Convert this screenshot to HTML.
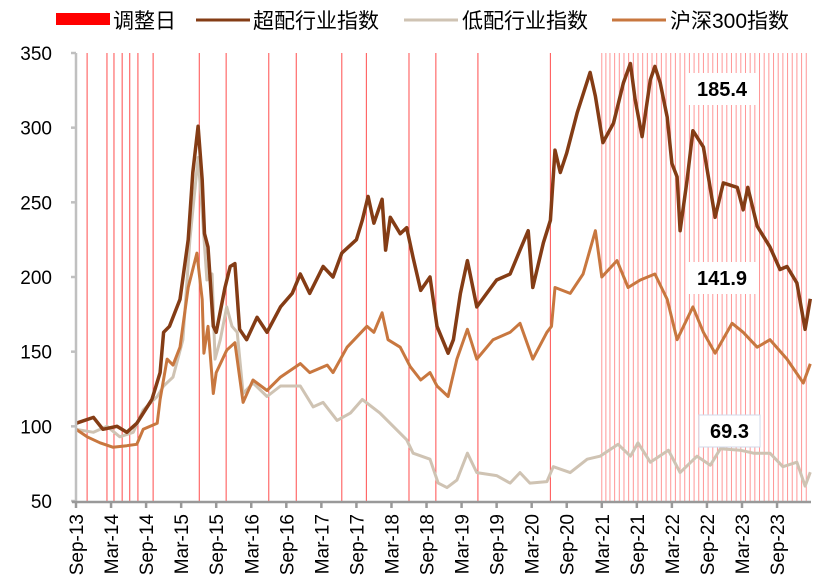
<!DOCTYPE html>
<html><head><meta charset="utf-8"><style>
body{margin:0;background:#fff;}
svg{display:block;font-family:"Liberation Sans","Noto Sans CJK SC",sans-serif;}
</style></head><body>
<svg id="chart" width="820" height="588" viewBox="0 0 820 588">
<g id="legend">
<g><rect x="56" y="13" width="54" height="12" fill="#ff0000"/><text x="113" y="28" font-size="21">调整日</text></g>
<g><line x1="196" y1="20" x2="250" y2="20" stroke="#843c15" stroke-width="3"/><text x="253" y="28" font-size="21">超配行业指数</text></g>
<g><line x1="404" y1="20" x2="458" y2="20" stroke="#cfc3b3" stroke-width="3"/><text x="462" y="28" font-size="21">低配行业指数</text></g>
<g><line x1="612" y1="20" x2="666" y2="20" stroke="#c8773f" stroke-width="3"/><text x="670" y="28" font-size="21">沪深300指数</text></g>
</g>
<g id="rules"></g>
<g id="series"></g>
<g id="axes"></g>
<g id="labels"></g>
</svg>
<script>
const yTicks=[350,300,250,200,150,100,50];
const xLabels=["Sep-13","Mar-14","Sep-14","Mar-15","Sep-15","Mar-16","Sep-16","Mar-17","Sep-17","Mar-18","Sep-18","Mar-19","Sep-19","Mar-20","Sep-20","Mar-21","Sep-21","Mar-22","Sep-22","Mar-23","Sep-23"];
const adjustSparse=[1.9,5.3,6.5,7.9,9.2,10.6,13.2,21.1,25.7,33,37.7,45.5,49.7,57,61.6,68.8,81.2];
const adjustDense=[90.0,90.7,91.4,92.2,93.0,93.8,94.6,95.4,96.2,97.0,97.8,98.6,99.4,100.2,101.0,101.8,102.6,103.4,104.2,105.0,105.8,106.6,107.4,108.2,109.0,109.8,110.6,111.4,112.2,113.0,113.8,114.6,115.4,116.2,117.0,117.8,118.6,119.4,120.2,121.0,121.8,122.6,123.4,124.2,125.0];
const overMonths=[0,3,4.6,7,8.7,10.4,13,14.4,15,16,17.8,19.2,20,20.9,21.6,22,22.6,23.5,24,25.5,26.4,27.2,28,29.2,31,32.7,35,37,38.4,40,42.3,44,45.5,48,49,50,51,52.4,53,53.8,55.5,56.6,57.7,59,60.6,61.8,63.7,64.6,65.8,67,68.6,70.3,72,74.3,76,77.4,78.2,80,81.2,82,82.9,84,85.8,88,88.9,90.2,92,93.7,94.9,95.7,96.9,98.3,99.1,100,101.2,102,102.9,103.4,104.6,105.6,107.4,109.4,110.8,113.2,114.2,115,116.6,118.8,120.5,121.7,123.4,124.8,125.7];
const overValues=[102,106,98,100,96,102,118,136,163,167,185,225,270,301,265,229,220,167,163,193,207,209,165,158,173,163,180,189,202,189,207,200,216,225,238,254,236,252,218,240,229,233,213,191,200,167,149,158,189,211,180,189,198,202,218,231,193,223,238,285,270,283,310,337,321,290,303,330,343,319,294,332,341,330,307,276,267,231,265,298,287,240,263,260,245,260,234,220,205,207,196,165,185.4];
const underMonths=[0,3,5.3,7.5,9.8,11.5,13.9,15,16.6,18.3,19.5,20.9,21.6,22.4,23.3,23.8,24.7,25.8,26.7,27.6,28.6,30.3,32.7,35,38.4,40.6,42.3,44.7,47,49,52,54.3,56.6,57.7,60.6,62,63.5,65.2,67,68.6,72,74.3,76,77.7,80.6,81.7,84.6,87.5,89.7,92.8,94.9,96.2,98.3,101.4,103.4,106.3,108.6,110.3,113.7,116,118.8,121,123.4,124.8,125.7];
const underValues=[98,96,100,93,96,111,120,127,133,158,225,280,243,198,202,145,158,180,167,163,122,129,120,127,127,113,116,104,109,118,109,100,91,82,78,62,59,64,82,69,67,62,69,62,63,73,69,78,80,88,80,89,76,84,69,80,74,85,84,82,82,73,76,60,69.3];
const hsMonths=[0,1.9,4.1,6.3,8.7,10.4,11.5,13.9,14.4,15.6,16.6,17.8,19.2,20.7,21.6,21.9,22.6,23.5,24,25.8,27.2,28.6,30.3,32.7,35,38.4,40,43,44,46.4,49.8,51,52.4,53.4,55.5,57.2,59,60.6,61.8,63.7,65.2,67,68.6,71.4,74.3,76,78.2,80.6,81.4,82,84.6,86.8,88.9,90,92.6,94.5,96.6,99.1,101.2,102.9,105.6,107.4,109.4,112.3,114.2,116.6,118.8,121.7,124.5,125.7];
const hsValues=[98,93,89,86,87,88,98,102,118,145,141,153,193,216,185,149,167,122,136,151,156,116,131,124,133,142,136,141,136,153,167,163,176,158,153,140,131,136,127,120,145,165,145,158,163,169,145,163,167,193,189,202,231,200,211,193,198,202,185,158,180,163,149,169,163,153,158,145,129,141.9];
const endLabels=["185.4","141.9","69.3"];

const NS="http://www.w3.org/2000/svg";
const X0=76, XSTEP=5.842, Y0=501, YTOP=53, VMIN=50, VMAX=350;
function xs(m){return X0+m*XSTEP;}
function ys(v){return Y0-(v-VMIN)/(VMAX-VMIN)*(Y0-YTOP);}
function mk(tag,attrs,parent){const e=document.createElementNS(NS,tag);for(const k in attrs)e.setAttribute(k,attrs[k]);parent.appendChild(e);return e;}
const rules=document.getElementById('rules');
adjustSparse.forEach(m=>{const l=mk('line',{x1:xs(m),x2:xs(m),y1:YTOP,y2:Y0,stroke:'#ff2020','stroke-width':1,'stroke-opacity':0.8},rules);

});
adjustDense.forEach(m=>{const l=mk('line',{x1:xs(m),x2:xs(m),y1:YTOP,y2:Y0,stroke:'#ff3030','stroke-width':1,'stroke-opacity':0.5},rules);

});
const ser=document.getElementById('series');
function line(ms,vs,color,w,name){const p=mk('polyline',{points:ms.map((m,i)=>xs(m).toFixed(1)+','+ys(vs[i]).toFixed(1)).join(' '),fill:'none',stroke:color,'stroke-width':w,'stroke-linejoin':'round'},ser);

}
line(underMonths,underValues,'#cfc3b3',3,'underweight-line');
line(hsMonths,hsValues,'#c8773f',3,'hs300-line');
line(overMonths,overValues,'#843c15',3.5,'overweight-line');
const ax=document.getElementById('axes');
const ya=mk('line',{x1:X0,x2:X0,y1:YTOP,y2:Y0,stroke:'#c0c0c0','stroke-width':2.5},ax);


yTicks.forEach(v=>{mk('line',{x1:X0-5,x2:X0,y1:ys(v),y2:ys(v),stroke:'#c0c0c0','stroke-width':2.5},ax);
const t=mk('text',{x:52,y:ys(v)+7,'text-anchor':'end','font-size':19},ax);t.textContent=v;

});
const xa=mk('line',{x1:X0-4,x2:811,y1:Y0+1,y2:Y0+1,stroke:'#999','stroke-width':2.5},ax);


xLabels.forEach((s,i)=>{const x=xs(i*6);mk('line',{x1:x,x2:x,y1:Y0,y2:Y0+7,stroke:'#999','stroke-width':2.5},ax);
const t=mk('text',{x:0,y:0,'text-anchor':'end','font-size':19,transform:`translate(${x+7},514) rotate(-90)`},ax);t.textContent=s;

});
const lb=document.getElementById('labels');
const boxes=[[687,73,70,32,overValues[overValues.length-1],false],[687,262,70,32,hsValues[hsValues.length-1],false],[699,415,61,32,underValues[underValues.length-1],true]];
boxes.forEach((b,i)=>{mk('rect',{x:b[0],y:b[1],width:b[2],height:b[3],fill:'#fff',stroke:b[5]?'#d0d8e8':'none'},lb);
const t=mk('text',{x:b[0]+b[2]/2,y:b[1]+23,'text-anchor':'middle','font-size':20,'font-weight':'bold'},lb);t.textContent=endLabels[i];

});
</script>
</body></html>
